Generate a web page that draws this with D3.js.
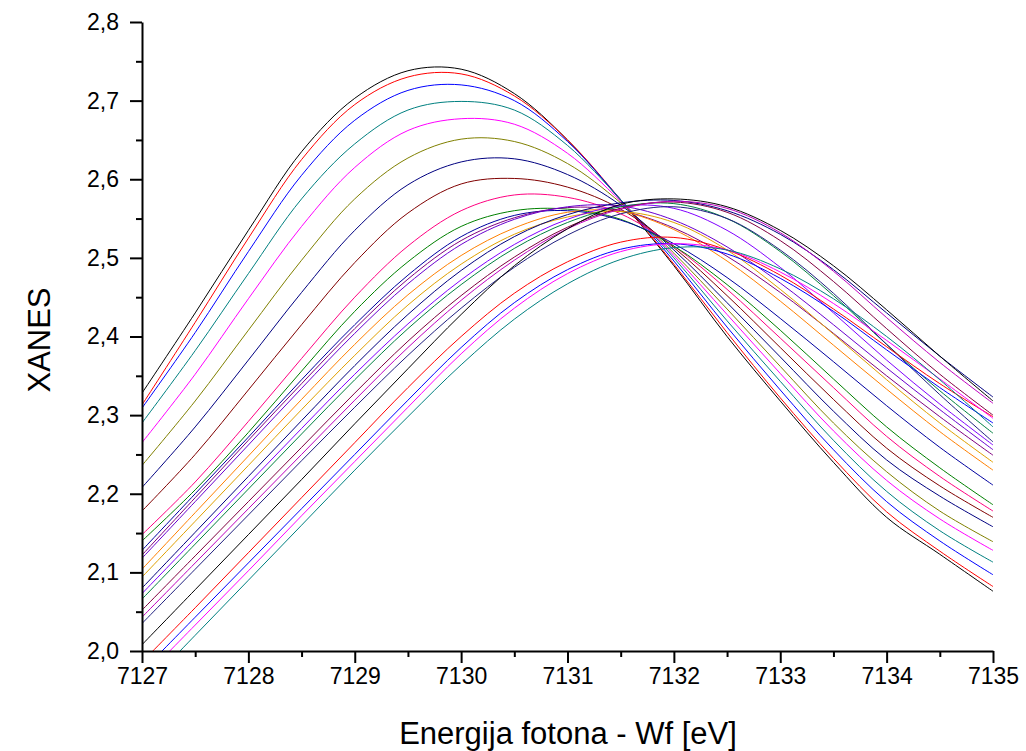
<!DOCTYPE html>
<html><head><meta charset="utf-8">
<script src="https://cdn.jsdelivr.net/npm/d3@7/dist/d3.min.js"></script>
<style>body{margin:0;background:#fff}svg{display:block}</style>
</head><body>
<svg id="chart" width="1026" height="751"></svg>
<script>
// photon energy grid (eV)
const energy = [7127,7127.5,7128,7128.5,7129,7129.5,7130,7130.5,7131,7131.5,7132,7132.5,7133,7133.5,7134,7134.5,7135];
const xMajorTicks = [7127,7128,7129,7130,7131,7132,7133,7134,7135];
const xMinorTicks = [7127.5,7128.5,7129.5,7130.5,7131.5,7132.5,7133.5,7134.5];
const yMajorTicks = [2.0,2.1,2.2,2.3,2.4,2.5,2.6,2.7,2.8];
const yMinorTicks = [2.05,2.15,2.25,2.35,2.45,2.55,2.65,2.75];

// XANES series
const s01 = [2.328,2.430,2.535,2.635,2.703,2.738,2.740,2.709,2.650,2.573,2.490,2.400,2.318,2.240,2.170,2.123,2.076];
const s02 = [2.313,2.418,2.525,2.625,2.695,2.730,2.734,2.706,2.650,2.574,2.492,2.405,2.322,2.245,2.177,2.127,2.082];
const s03 = [2.309,2.405,2.508,2.605,2.675,2.713,2.720,2.700,2.648,2.574,2.496,2.412,2.332,2.256,2.190,2.140,2.097];
const s04 = [2.290,2.382,2.480,2.575,2.645,2.688,2.699,2.688,2.643,2.574,2.500,2.420,2.343,2.268,2.203,2.153,2.113];
const s05 = [2.265,2.352,2.448,2.540,2.615,2.662,2.677,2.670,2.633,2.572,2.503,2.428,2.353,2.280,2.217,2.168,2.128];
const s06 = [2.236,2.318,2.408,2.497,2.575,2.627,2.651,2.648,2.620,2.570,2.506,2.435,2.362,2.290,2.228,2.178,2.139];
const s07 = [2.208,2.285,2.370,2.456,2.535,2.593,2.622,2.626,2.606,2.567,2.510,2.443,2.374,2.305,2.243,2.197,2.158];
const s08 = [2.178,2.250,2.332,2.415,2.494,2.557,2.594,2.601,2.590,2.562,2.513,2.452,2.386,2.320,2.258,2.210,2.170];
const s09 = [2.148,2.215,2.292,2.372,2.450,2.515,2.560,2.580,2.577,2.556,2.515,2.460,2.398,2.335,2.273,2.222,2.178];
const s10 = [2.140,2.205,2.278,2.356,2.432,2.495,2.540,2.560,2.562,2.549,2.515,2.466,2.408,2.346,2.285,2.233,2.186];
const s11 = [2.128,2.200,2.272,2.345,2.415,2.478,2.527,2.554,2.560,2.548,2.518,2.475,2.423,2.368,2.312,2.259,2.211];
const s12 = [2.122,2.195,2.268,2.340,2.410,2.473,2.522,2.551,2.564,2.560,2.538,2.502,2.456,2.404,2.350,2.298,2.249];
const s13 = [2.118,2.190,2.262,2.334,2.404,2.467,2.517,2.549,2.565,2.566,2.548,2.514,2.468,2.415,2.360,2.307,2.256];
const s14 = [2.104,2.176,2.248,2.320,2.390,2.453,2.503,2.538,2.558,2.559,2.536,2.496,2.445,2.389,2.333,2.279,2.230];
const s15 = [2.094,2.165,2.236,2.307,2.376,2.440,2.492,2.530,2.552,2.559,2.545,2.510,2.460,2.403,2.345,2.290,2.240];
const s16 = [2.080,2.151,2.222,2.293,2.363,2.428,2.484,2.527,2.555,2.570,2.573,2.560,2.530,2.485,2.430,2.375,2.323];
const s17 = [2.073,2.143,2.213,2.283,2.352,2.416,2.472,2.517,2.549,2.566,2.563,2.535,2.488,2.430,2.370,2.314,2.262];
const s18 = [2.066,2.136,2.206,2.276,2.345,2.410,2.466,2.512,2.545,2.565,2.569,2.550,2.508,2.452,2.390,2.331,2.277];
const s19 = [2.052,2.121,2.190,2.259,2.328,2.394,2.452,2.501,2.539,2.563,2.571,2.558,2.522,2.470,2.410,2.352,2.300];
const s20 = [2.043,2.112,2.181,2.250,2.319,2.386,2.446,2.497,2.537,2.562,2.572,2.563,2.532,2.483,2.424,2.367,2.315];
const s21 = [2.035,2.104,2.173,2.242,2.310,2.376,2.436,2.488,2.529,2.556,2.565,2.550,2.510,2.455,2.390,2.326,2.266];
const s22 = [2.008,2.078,2.148,2.218,2.289,2.359,2.428,2.490,2.537,2.568,2.575,2.565,2.535,2.490,2.434,2.375,2.318];
const s23 = [1.986,2.055,2.125,2.195,2.265,2.335,2.400,2.455,2.495,2.520,2.526,2.510,2.478,2.435,2.387,2.340,2.298];
const s24 = [1.974,2.043,2.112,2.181,2.250,2.319,2.386,2.443,2.485,2.511,2.518,2.505,2.474,2.432,2.383,2.335,2.290];
const s25 = [1.964,2.033,2.102,2.172,2.241,2.310,2.378,2.436,2.480,2.508,2.518,2.510,2.482,2.442,2.395,2.346,2.296];
const s26 = [1.950,2.020,2.090,2.160,2.230,2.298,2.364,2.422,2.467,2.498,2.513,2.510,2.486,2.448,2.400,2.345,2.285];

const seriesColors = ["#000000","#ff0000","#0000ff","#008080","#ff00ff","#808000","#000080","#800000","#ff0080","#008000",
  "#0000a0","#800080","#6a00d0","#ff8000","#e0a000","#000080","#8000ff","#008040","#800040","#c000c0","#202080",
  "#000000","#ff0000","#0000ff","#ff00ff","#008080"];
const allSeries = [s01,s02,s03,s04,s05,s06,s07,s08,s09,s10,s11,s12,s13,s14,s15,s16,s17,s18,s19,s20,s21,s22,s23,s24,s25,s26];

const svg = d3.select('#chart');
const FONT = "'Liberation Sans', Arial, sans-serif";
const x = d3.scaleLinear().domain([7127,7135]).range([142,993]);
const y = d3.scaleLinear().domain([2.0,2.8]).range([651,22]);

svg.append('defs').append('clipPath').attr('id','plotClip')
  .append('rect').attr('x',x(7127)).attr('y',y(2.8)).attr('width',x(7135)-x(7127)).attr('height',y(2.0)-y(2.8));

const line = d3.line().x((d,i)=>x(energy[i])).y(d=>y(d)).curve(d3.curveCatmullRom.alpha(0.5));
const g = svg.append('g').attr('clip-path','url(#plotClip)');
allSeries.forEach((s,i)=>{
  g.append('path').attr('d',line(s)).attr('fill','none')
    .attr('stroke',seriesColors[i]).attr('stroke-width',1);
});

const fmt = d=>d3.format('.1f')(d).replace('.',',');
// minor ticks
svg.append('g').attr('transform',`translate(0,${y(2.0)})`)
  .call(d3.axisBottom(x).tickValues(xMinorTicks).tickSize(6).tickSizeOuter(0).tickFormat(''))
  .call(a=>a.select('.domain').remove()).selectAll('line').attr('stroke-width',2);
svg.append('g').attr('transform',`translate(${x(7127)},0)`)
  .call(d3.axisLeft(y).tickValues(yMinorTicks).tickSize(6).tickSizeOuter(0).tickFormat(''))
  .call(a=>a.select('.domain').remove()).selectAll('line').attr('stroke-width',2);
// major axes
const xa = svg.append('g').attr('transform',`translate(0,${y(2.0)})`)
  .call(d3.axisBottom(x).tickValues(xMajorTicks).tickSize(12).tickSizeOuter(0).tickPadding(5).tickFormat(d=>d));
const ya = svg.append('g').attr('transform',`translate(${x(7127)},0)`)
  .call(d3.axisLeft(y).tickValues(yMajorTicks).tickSize(12).tickSizeOuter(0).tickPadding(11).tickFormat(fmt));
[xa,ya].forEach(a=>{
  a.select('.domain').attr('stroke-width',2);
  a.selectAll('line').attr('stroke-width',2);
  a.selectAll('text').attr('font-family',FONT).attr('font-size',23).attr('fill','#000');
});

svg.append('text').attr('x',568).attr('y',744).attr('text-anchor','middle')
  .attr('font-family',FONT).attr('font-size',31).text('Energija fotona - Wf [eV]');
svg.append('text').attr('transform','translate(50,340) rotate(-90)').attr('text-anchor','middle')
  .attr('font-family',FONT).attr('font-size',31).text('XANES');
</script>
</body></html>
